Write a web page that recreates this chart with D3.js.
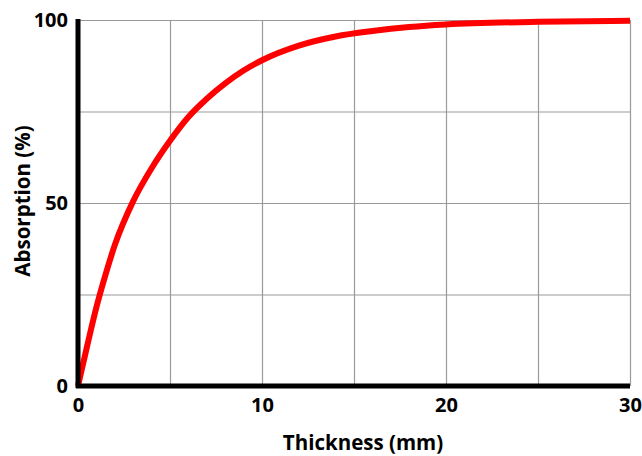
<!DOCTYPE html>
<html>
<head>
<meta charset="utf-8">
<script src="https://cdn.jsdelivr.net/npm/d3@7"></script>
<style>
  html, body { margin: 0; padding: 0; background: #fff; }
  svg { display: block; }
  text { font-family: "Open Sans", "DejaVu Sans", sans-serif; font-weight: 700; fill: #000; }
</style>
</head>
<body>
<svg id="chart" width="642" height="456"></svg>
<script>
const thickness  = [0, 0.5, 1, 1.5, 2, 3, 4, 5, 6, 7, 8, 9, 10, 12, 14, 16, 18, 20, 25, 30];
const absorption = [0, 11, 21.5, 30.5, 38.5, 50.5, 59.5, 67, 73.5, 78.5, 82.7, 86.2, 89, 93, 95.5, 97, 98.1, 98.8, 99.5, 99.8];
const xGridTicks = [0, 5, 10, 15, 20, 25, 30];
const yGridTicks = [0, 25, 50, 75, 100];
const xLabelTicks = [0, 10, 20, 30];
const yLabelTicks = [0, 50, 100];
const xTitle = "Thickness (mm)";
const yTitle = "Absorption (%)";

const data = thickness.map((t, i) => ({ x: t, y: absorption[i] }));

const svg = d3.select("#chart");
const x = d3.scaleLinear().domain([0, 30]).range([78, 630]);
const y = d3.scaleLinear().domain([0, 100]).range([386, 20]);

// grid
svg.append("g")
  .attr("transform", `translate(0,386)`)
  .call(d3.axisBottom(x).tickValues(xGridTicks).tickSize(-366).tickFormat(""))
  .call(g => g.select(".domain").remove())
  .call(g => g.selectAll("line").attr("stroke", "#9a9a9a").attr("stroke-width", 1.2));
svg.append("g")
  .attr("transform", `translate(78,0)`)
  .call(d3.axisLeft(y).tickValues(yGridTicks).tickSize(-552).tickFormat(""))
  .call(g => g.select(".domain").remove())
  .call(g => g.selectAll("line").attr("stroke", "#9a9a9a").attr("stroke-width", 1.2));

// curve
const line = d3.line().x(d => x(d.x)).y(d => y(d.y)).curve(d3.curveMonotoneX);
svg.append("path")
  .datum(data)
  .attr("d", line)
  .attr("fill", "none")
  .attr("stroke", "#ff0000")
  .attr("stroke-width", 6)
  .attr("stroke-linejoin", "round")
  .attr("stroke-linecap", "butt");

// axes (thick black)
svg.append("g")
  .attr("transform", `translate(0,386)`)
  .call(d3.axisBottom(x).tickValues(xLabelTicks).tickSize(0).tickPadding(12).tickFormat(d3.format("d")))
  .call(g => g.select(".domain").attr("stroke", "#000").attr("stroke-width", 5).attr("d", `M76,0H630`))
  .call(g => g.selectAll("text").attr("font-size", 20).style("font-family", '"Open Sans", sans-serif').style("font-weight", 700));
svg.append("g")
  .attr("transform", `translate(78,0)`)
  .call(d3.axisLeft(y).tickValues(yLabelTicks).tickSize(0).tickPadding(10).tickFormat(d3.format("d")))
  .call(g => g.select(".domain").attr("stroke", "#000").attr("stroke-width", 5).attr("d", `M0,19V388`))
  .call(g => g.selectAll("text").attr("font-size", 20).style("font-family", '"Open Sans", sans-serif').style("font-weight", 700));

// titles
svg.append("text")
  .attr("x", 363).attr("y", 450)
  .attr("text-anchor", "middle")
  .attr("font-size", 20.5)
  .text(xTitle);
svg.append("text")
  .attr("transform", "translate(30,201) rotate(-90)")
  .attr("text-anchor", "middle")
  .attr("font-size", 20.5)
  .text(yTitle);
</script>
</body>
</html>
